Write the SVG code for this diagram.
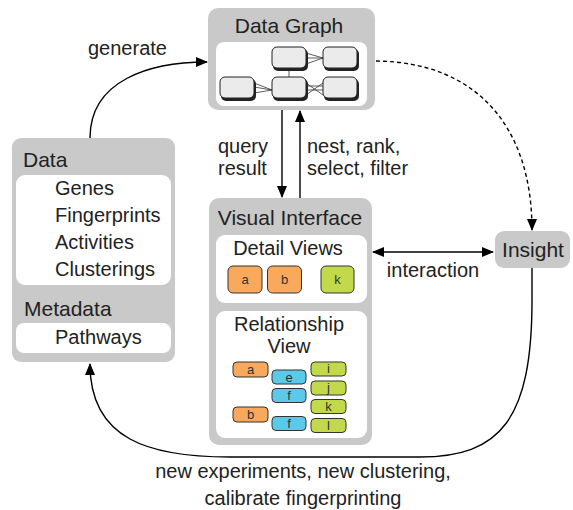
<svg xmlns="http://www.w3.org/2000/svg" width="573" height="510" viewBox="0 0 573 510">
<defs>
<style>
text{font-family:"Liberation Sans",Arial,sans-serif;fill:#222}
.t{font-size:21px}
.l{font-size:20px}
.s{font-size:13px;fill:#333;text-anchor:middle}
.box{fill:#c9c9c9}
.in{fill:#fff}
.gn{fill:#ebebeb;stroke:#222;stroke-width:1}
.sh{fill:#222}
.o{fill:#f8a95c;stroke:#333;stroke-width:1}
.g{fill:#c3d94c;stroke:#333;stroke-width:1}
.b{fill:#5cc9e8;stroke:#333;stroke-width:1}
.e{stroke:#333;stroke-width:0.8;fill:none}
.c{stroke:#000;stroke-width:1.4;fill:none}
</style>
<marker id="ah" markerWidth="12" markerHeight="10" refX="11" refY="5" orient="auto-start-reverse" markerUnits="userSpaceOnUse">
<path d="M0,0 L12,5 L0,10 Z" fill="#000"/>
</marker>
</defs>

<g id="data-graph">
<rect class="box" x="208" y="8" width="167" height="102" rx="10"/>
<text class="t" x="289" y="33" text-anchor="middle">Data Graph</text>
<rect class="in" x="216" y="42" width="151" height="64" rx="8"/>
<g class="edges-inner">
<line class="e" x1="289" y1="69" x2="289" y2="77"/>
<path class="e" d="M306,53 L323,58 M306,58 L323,58 M306,64 L323,58"/>
<path class="e" d="M254,83 L272,90 M254,87 L272,90 M254,93 L272,90"/>
<path class="e" d="M306,83 L323,95 M306,95 L323,83 M306,86 L323,86 M306,90 L323,90"/>
</g>
<rect class="sh" x="273" y="49" width="35" height="22" rx="5"/>
<rect class="gn" x="272" y="47" width="34" height="21" rx="5"/>
<rect class="sh" x="324" y="49" width="35" height="22" rx="5"/>
<rect class="gn" x="323" y="47" width="34" height="21" rx="5"/>
<rect class="sh" x="221" y="79" width="35" height="22" rx="5"/>
<rect class="gn" x="220" y="77" width="34" height="21" rx="5"/>
<rect class="sh" x="273" y="79" width="35" height="22" rx="5"/>
<rect class="gn" x="272" y="77" width="34" height="21" rx="5"/>
<rect class="sh" x="324" y="79" width="35" height="22" rx="5"/>
<rect class="gn" x="323" y="77" width="34" height="21" rx="5"/>
</g>

<g id="data">
<rect class="box" x="12" y="138" width="163" height="224" rx="9"/>
<text class="t" x="23" y="167">Data</text>
<rect class="in" x="16" y="175" width="155" height="110" rx="9"/>
<text class="l" x="55" y="195">Genes</text>
<text class="l" x="55" y="222">Fingerprints</text>
<text class="l" x="55" y="249">Activities</text>
<text class="l" x="55" y="276">Clusterings</text>
<text class="t" x="24" y="316">Metadata</text>
<rect class="in" x="16" y="323" width="155" height="30" rx="8"/>
<text class="l" x="55" y="344">Pathways</text>
</g>

<g id="visual-interface">
<rect class="box" x="209" y="198" width="163" height="247" rx="10"/>
<text class="t" x="290" y="225" text-anchor="middle">Visual Interface</text>
<rect class="in" x="216" y="235" width="151" height="68" rx="9"/>
<text class="l" x="288" y="255" text-anchor="middle">Detail Views</text>
<rect class="o" x="228" y="266" width="34" height="27" rx="5"/>
<text class="s" x="245" y="284">a</text>
<rect class="o" x="267.5" y="266" width="34" height="27" rx="5"/>
<text class="s" x="284.5" y="284">b</text>
<rect class="g" x="321" y="266" width="33" height="27" rx="5"/>
<text class="s" x="337.5" y="284">k</text>
<rect class="in" x="216" y="311" width="151" height="127" rx="9"/>
<text class="l" x="289" y="331" text-anchor="middle">Relationship</text>
<text class="l" x="289" y="353" text-anchor="middle">View</text>
<rect class="o" x="233" y="362" width="35" height="15" rx="4"/>
<text class="s" x="250.5" y="374">a</text>
<rect class="b" x="272" y="370" width="34" height="14" rx="4"/>
<text class="s" x="289" y="382">e</text>
<rect class="b" x="272" y="388.5" width="34" height="14" rx="4"/>
<text class="s" x="289" y="400">f</text>
<rect class="o" x="233" y="407" width="35" height="15" rx="4"/>
<text class="s" x="250.5" y="419">b</text>
<rect class="b" x="272" y="416.5" width="34" height="14" rx="4"/>
<text class="s" x="289" y="428">f</text>
<rect class="g" x="311" y="362" width="35" height="14" rx="4"/>
<text class="s" x="328.5" y="373">i</text>
<rect class="g" x="311" y="381" width="35" height="14" rx="4"/>
<text class="s" x="328.5" y="392">j</text>
<rect class="g" x="311" y="399.5" width="35" height="14" rx="4"/>
<text class="s" x="328.5" y="411">k</text>
<rect class="g" x="311" y="418.5" width="35" height="14" rx="4"/>
<text class="s" x="328.5" y="430">l</text>
</g>

<g id="insight">
<rect class="box" x="495" y="231" width="75" height="37" rx="9"/>
<text class="t" x="533" y="257" text-anchor="middle">Insight</text>
</g>

<g id="connectors">
<path class="c" d="M90,138 C90,80 150,62 207,62" marker-end="url(#ah)"/>
<path class="c" d="M376,61 C475,62 532,125 532,230" stroke-dasharray="4,3" marker-end="url(#ah)"/>
<line class="c" x1="282" y1="110" x2="282" y2="197" marker-end="url(#ah)"/>
<line class="c" x1="300" y1="198" x2="300" y2="111" marker-end="url(#ah)"/>
<line class="c" x1="373" y1="252" x2="493" y2="252" marker-start="url(#ah)" marker-end="url(#ah)"/>
<path class="c" d="M532,268 L532,300 C532,420 500,457 420,457 L230,457 C150,457 90,440 90,364" marker-end="url(#ah)"/>
</g>

<g id="labels">
<text class="l" x="88" y="55">generate</text>
<text class="l" x="218" y="153">query</text>
<text class="l" x="218" y="175">result</text>
<text class="l" x="307" y="153">nest, rank,</text>
<text class="l" x="307" y="175">select, filter</text>
<text class="l" x="433" y="277" text-anchor="middle">interaction</text>
<text class="l" x="303" y="478" text-anchor="middle">new experiments, new clustering,</text>
<text class="l" x="303" y="505" text-anchor="middle">calibrate fingerprinting</text>
</g>
</svg>
